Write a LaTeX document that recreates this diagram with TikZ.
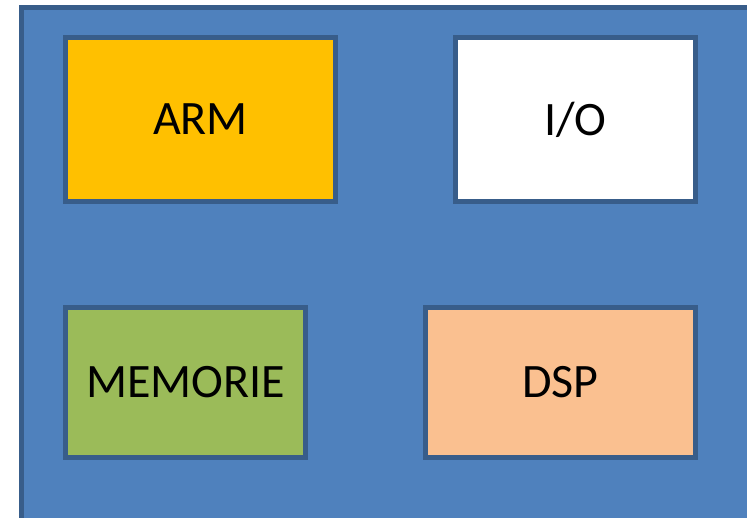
\documentclass[tikz,border=0pt]{standalone}
\usepackage{fontspec}
\setmainfont{Carlito}
\definecolor{bgblue}{HTML}{4F81BD}
\definecolor{edgeblue}{HTML}{385D8A}
\definecolor{armfill}{HTML}{FFC000}
\definecolor{memfill}{HTML}{9BBB59}
\definecolor{dspfill}{HTML}{FAC090}
\begin{document}
\begin{tikzpicture}[x=1pt,y=-1pt,
  blockbox/.style={draw=edgeblue, line width=5pt, rectangle, inner sep=0pt,
    font=\fontsize{48}{57}\selectfont, text=black},
  wide/.style={minimum width=270pt},
  narrow/.style={minimum width=240pt}]
\useasboundingbox (0,0) rectangle (747,517);
\clip (0,0) rectangle (747,517);
\draw[draw=edgeblue, fill=bgblue, line width=5pt] (21,7.5) rectangle (790,560);
\node[blockbox, wide, fill=armfill, minimum height=164pt] (arm) at (200.5,119.5) {\raisebox{-2pt}{ARM}};
\node[blockbox, narrow, fill=white, minimum height=164pt] (io) at (575.5,119.5) {\raisebox{-2pt}{I/O}};
\node[blockbox, narrow, fill=memfill, minimum height=150pt] (mem) at (185.5,382) {\raisebox{-1pt}{MEMORIE}};
\node[blockbox, wide, fill=dspfill, minimum height=150pt] (dsp) at (560.5,382) {\raisebox{-1pt}{DSP}};
\end{tikzpicture}
\end{document}
